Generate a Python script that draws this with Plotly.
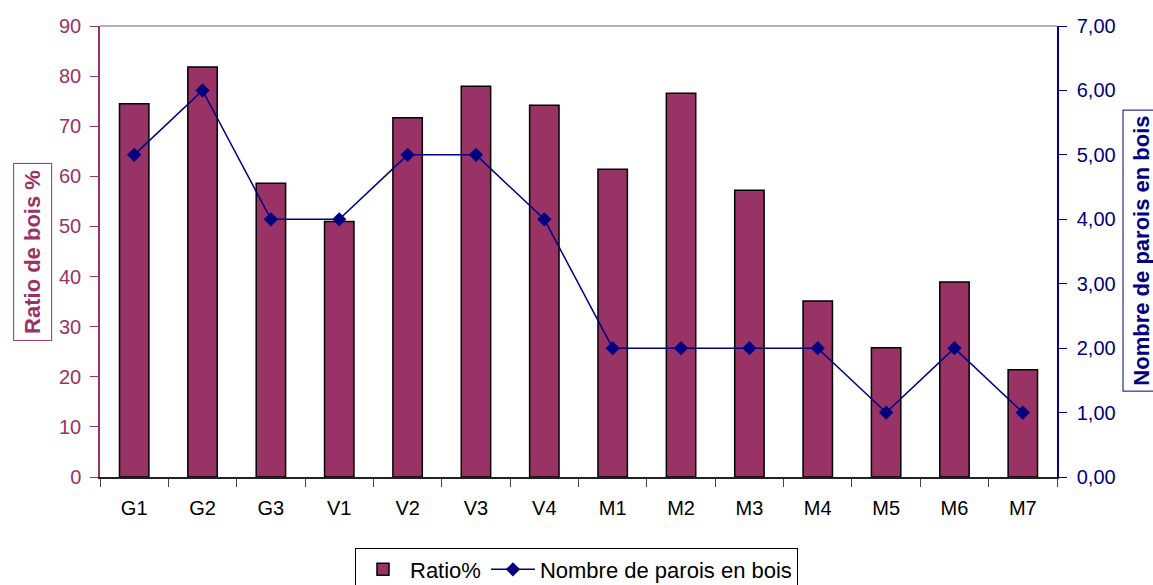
import plotly.graph_objects as go

# Sites and measured values
sites = ["G1", "G2", "G3", "V1", "V2", "V3", "V4", "M1", "M2", "M3", "M4", "M5", "M6", "M7"]
ratio_bois = [74.5, 81.8, 58.6, 51.0, 71.7, 78.0, 74.2, 61.4, 76.6, 57.2, 35.1, 25.8, 38.9, 21.4]
nb_parois = [5, 6, 4, 4, 5, 5, 4, 2, 2, 2, 2, 1, 2, 1]

left_ticks = list(range(0, 91, 10))
right_ticks = list(range(0, 8))

PURPLE = "#993366"
NAVY = "#000080"
FONT = "Liberation Sans, Arial, sans-serif"

fig = go.Figure()

fig.add_trace(go.Bar(
    x=sites, y=ratio_bois, name="Ratio%",
    marker=dict(color=PURPLE, line=dict(color="black", width=1.5)),
    yaxis="y",
))

fig.add_trace(go.Scatter(
    x=sites, y=nb_parois, name="Nombre de parois en bois",
    mode="lines+markers",
    line=dict(color=NAVY, width=1.5),
    marker=dict(symbol="diamond", size=11, color=NAVY),
    yaxis="y2",
))

fig.update_layout(
    width=1153, height=585,
    margin=dict(l=100, r=96, t=26, b=108),
    paper_bgcolor="white", plot_bgcolor="white",
    font=dict(family=FONT, size=20, color="black"),
    separators=", ",
    bargap=0.57,
    showlegend=True,
    legend=dict(
        orientation="h", xref="container", yref="container",
        x=0.5, xanchor="center", y=0.064, yanchor="top",
        bordercolor="black", borderwidth=1, font=dict(size=22),
        tracegroupgap=0, itemwidth=44,
    ),
    xaxis=dict(
        type="category", range=[-0.5, 13.5], showgrid=False, automargin=False,
        showline=True, linecolor="#222222", linewidth=1.5,
        ticks="outside", tickson="boundaries", ticklen=8, tickcolor="#444444",
        tickfont=dict(size=20, color="black"), ticklabelstandoff=12,
    ),
    yaxis=dict(
        range=[0, 90], tickvals=left_ticks, showgrid=False, zeroline=False, automargin=False,
        showline=True, linecolor=PURPLE, linewidth=1.5,
        ticks="outside", ticklen=8, tickcolor=PURPLE,
        tickfont=dict(size=20, color=PURPLE), ticklabelstandoff=5,
    ),
    yaxis2=dict(
        range=[0, 7], tickvals=right_ticks, tickformat=".2f", automargin=False,
        overlaying="y", side="right", showgrid=False, zeroline=False,
        showline=True, linecolor=NAVY, linewidth=1.5,
        ticks="outside", ticklen=8, tickcolor=NAVY,
        tickfont=dict(size=20, color=NAVY), ticklabelstandoff=6,
    ),
)

# Top border of the plot area
fig.add_shape(type="line", xref="paper", yref="paper", x0=0, x1=1, y0=1, y1=1,
              line=dict(color="#999999", width=1.5))

# Boxed axis titles
fig.add_annotation(
    text="<b>Ratio de bois %</b>", xref="paper", yref="paper",
    x=-0.0705, y=0.498, xanchor="center", yanchor="middle", textangle=-90,
    showarrow=False, font=dict(size=22, color=PURPLE, family=FONT),
    bordercolor=PURPLE, borderwidth=1, borderpad=6,
)
fig.add_annotation(
    text="<b>Nombre de parois en bois</b>", xref="paper", yref="paper",
    x=1.068, y=0.501, xanchor="left", yanchor="middle", textangle=-90,
    showarrow=False, font=dict(size=22, color=NAVY, family=FONT),
    bordercolor=NAVY, borderwidth=1, borderpad=5,
)

fig.write_html("out.html")
